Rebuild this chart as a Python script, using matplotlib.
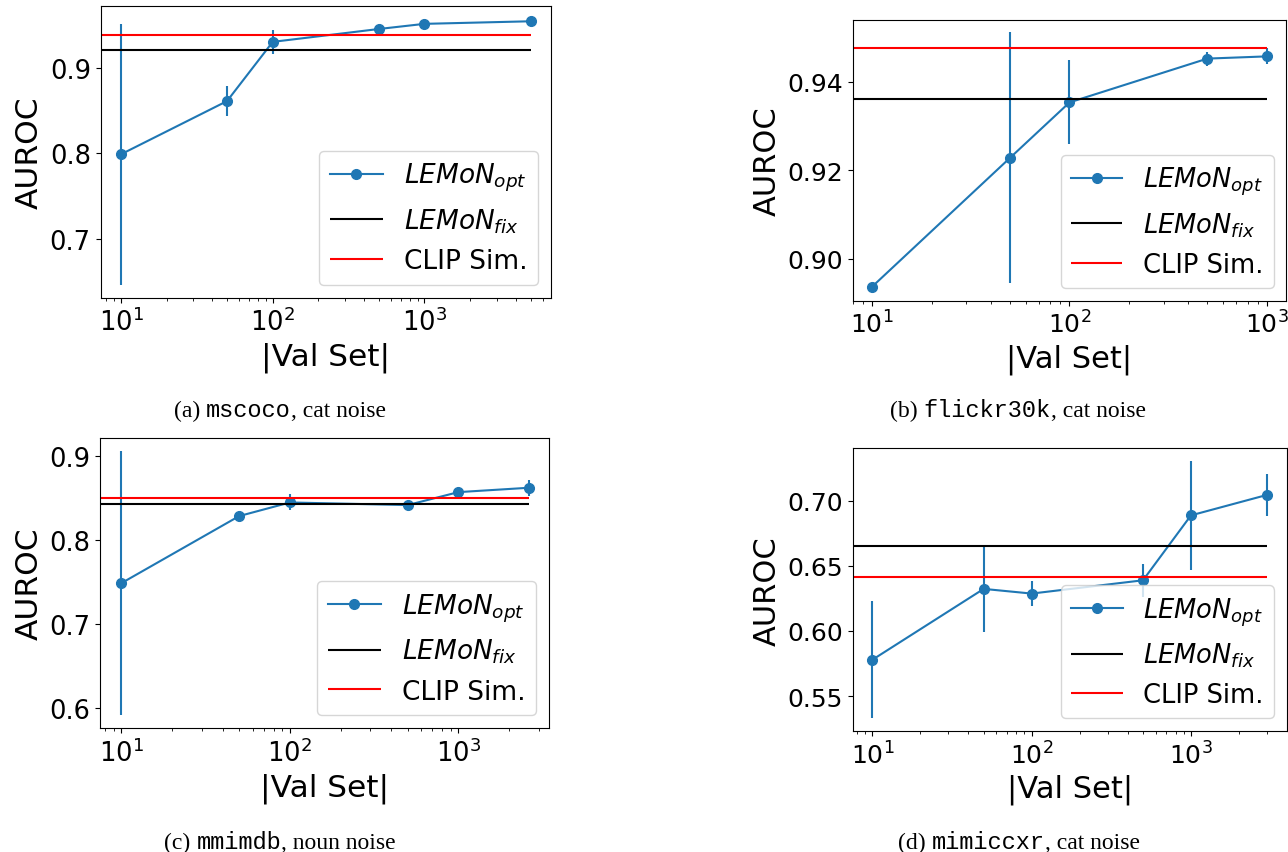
import numpy as np
import matplotlib
matplotlib.use('Agg')
import matplotlib.pyplot as plt
from matplotlib.offsetbox import TextArea, HPacker, AnnotationBbox

# =============================================================================
# data
# =============================================================================
x_a = [10, 50, 100, 500, 1000, 5000]
y_a = [0.799, 0.861, 0.930, 0.945, 0.951, 0.954]
e_a = [0.152, 0.017, 0.014, 0.002, 0.002, 0.002]
fix_a, clip_a = 0.920, 0.9376

x_b = [10, 50, 100, 500, 1000]
y_b = [0.8937, 0.9228, 0.9353, 0.9452, 0.9457]
e_b = [0.0003, 0.0283, 0.0095, 0.0016, 0.0018]
fix_b, clip_b = 0.9360, 0.9476

x_c = [10, 50, 100, 500, 1000, 2620]
y_c = [0.7484, 0.8282, 0.8444, 0.8413, 0.8567, 0.8619]
e_c = [0.157, 0.002, 0.0095, 0.002, 0.002, 0.0093]
fix_c, clip_c = 0.8421, 0.8496

x_d = [10, 50, 100, 500, 1000, 3000]
y_d = [0.5779, 0.6323, 0.6287, 0.6389, 0.6887, 0.7044]
e_d = [0.045, 0.033, 0.0098, 0.0125, 0.0416, 0.016]
fix_d, clip_d = 0.6652, 0.6415

captions = [("(a) ", "mscoco", ", cat noise"),
            ("(b) ", "flickr30k", ", cat noise"),
            ("(c) ", "mmimdb", ", noun noise"),
            ("(d) ", "mimiccxr", ", cat noise")]

W, H = 1288, 853
fig = plt.figure(figsize=(W / 100, H / 100), dpi=100)


def px_rect(left, top, right, bottom):
    return [left / W, 1 - bottom / H, (right - left) / W, (bottom - top) / H]


def panel(rect, x, y, err, fix, clip, fs_tick, fs_label, fs_leg, xlim=None):
    ax = fig.add_axes(rect)
    ax.plot(x, y, '-o', color='C0', ms=7, label=r'$LEMoN_{opt}$')
    ax.errorbar(x, y, yerr=err, fmt='none', ecolor='C0', elinewidth=1.5)
    ax.set_xscale('log')
    if xlim is not None:
        ax.set_xlim(xlim)
    xl = ax.get_xlim()
    ax.hlines(fix, xl[0], x[-1], color='black', lw=1.5, label=r'$LEMoN_{fix}$')
    ax.hlines(clip, xl[0], x[-1], color='red', lw=1.5, label='CLIP Sim.')
    ax.set_xlim(xl)
    ax.tick_params(labelsize=fs_tick)
    ax.set_xlabel('|Val Set|', fontsize=fs_label)
    ax.set_ylabel('AUROC', fontsize=fs_label)
    ax.legend(loc='lower right', fontsize=fs_leg)
    return ax


panel(px_rect(100.5, 7.3, 551, 299), x_a, y_a, e_a, fix_a, clip_a, 18.5, 22.5, 19)
panel(px_rect(852.5, 20.7, 1286.5, 301.7), x_b, y_b, e_b, fix_b, clip_b, 18, 22, 18.5)
panel(px_rect(100, 439, 549, 729.3), x_c, y_c, e_c, fix_c, clip_c, 18.5, 22.5, 19,
      xlim=(10 ** 0.873, 10 ** 3.538))
panel(px_rect(852.6, 449.3, 1286.7, 732.3), x_d, y_d, e_d, fix_d, clip_d, 18, 22, 18.5)

# captions (serif text with a typewriter dataset name)
cap_pos = [(280, 410.5), (1018, 410.5), (280, 842.5), (1019, 842.5)]
serif = dict(family='Liberation Serif', size=17)
mono = dict(family='Liberation Mono', size=17)
for (a, b, c), (cx, cy) in zip(captions, cap_pos):
    box = HPacker(children=[TextArea(a, textprops=serif),
                            TextArea(b, textprops=mono),
                            TextArea(c, textprops=serif)],
                  align='baseline', pad=0, sep=0)
    ab = AnnotationBbox(box, (cx / W, 1 - cy / H), xycoords='figure fraction',
                        frameon=False, box_alignment=(0.5, 0.5))
    fig.add_artist(ab)

fig.savefig('out.png', dpi=100)
